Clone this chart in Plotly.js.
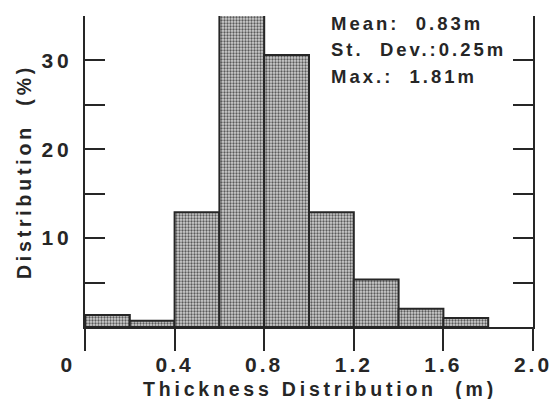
<!DOCTYPE html>
<html><head><meta charset="utf-8">
<script src="https://cdn.plot.ly/plotly-3.0.1.min.js"></script>
<style>
html,body{margin:0;padding:0;background:#fff;}
#chart .ytick text {letter-spacing:4px;}
#chart .xtick text {letter-spacing:3px;}
#chart .xtitle, #chart .ytitle {letter-spacing:3.8px;}
#chart .xtitle {translate: 11px 1px;}
#chart .annotation-text {letter-spacing:3px;}
</style></head><body><div id="chart" style="width:552px;height:399px"></div>
<script>
const binStarts = [0, 0.2, 0.4, 0.6, 0.8, 1.0, 1.2, 1.4, 1.6];
const binWidth = 0.2;
const percents = [1.35, 0.7, 12.9, 35.1, 30.6, 12.9, 5.35, 2.05, 1.0];
const xTickValues = [0, 0.4, 0.8, 1.2, 1.6, 2.0];
const xTickLabels = ['', '0.4', '0.8', '1.2', '1.6', '2.0'];
const yTickValues = [5, 10, 15, 20, 25, 30, 35];
const yTickLabels = ['', '10', '', '20', '', '30', ''];
const statsLines = ['Mean:\u00a0\u00a00.83m', 'St.\u00a0\u00a0Dev.:0.25m', 'Max.:\u00a0\u00a01.81m'];

const ink = '#262626';
const fam = 'Liberation Sans, Arial, Helvetica, sans-serif';

const trace = {
  type: 'bar',
  x: binStarts.map(s => s + binWidth / 2),
  y: percents,
  width: binStarts.map(() => binWidth),
  marker: {
    color: '#a4a4a4',
    pattern: {shape: '.', size: 3, solidity: 0.45, fgcolor: '#5a5a5a', bgcolor: '#d0d0d0', fillmode: 'replace'},
    line: {color: ink, width: 2}
  },
  hoverinfo: 'x+y'
};

const statsY = [0.977, 0.891, 0.804];
const annotations = statsLines.map((t, i) => ({
  text: t, xref: 'paper', yref: 'paper', x: 0.545, y: statsY[i],
  xanchor: 'left', yanchor: 'middle', align: 'left', showarrow: false,
  font: {family: fam, size: 18.5, color: ink, weight: 'bold'}
}));
annotations.push({
  text: '0', xref: 'x', yref: 'paper', x: 0, y: 0, xshift: -17, yshift: -37,
  xanchor: 'center', yanchor: 'middle', showarrow: false,
  font: {family: fam, size: 21, color: ink, weight: 'bold'}
});

const layout = {
  width: 552, height: 399,
  margin: {l: 85, r: 19, t: 16, b: 72},
  paper_bgcolor: '#ffffff', plot_bgcolor: '#ffffff',
  showlegend: false, bargap: 0,
  font: {family: fam, color: ink},
  xaxis: {
    range: [0, 2], showgrid: false, zeroline: false,
    showline: true, linecolor: ink, linewidth: 2,
    ticks: 'outside', ticklen: 22, tickwidth: 2, tickcolor: ink,
    tickmode: 'array', tickvals: xTickValues, ticktext: xTickLabels,
    ticklabelstandoff: -4,
    tickfont: {family: fam, size: 21, color: ink, weight: 'bold'},
    title: {text: 'Thickness\u00a0Distribution\u00a0\u00a0(m)', standoff: 12,
            font: {family: fam, size: 19.5, color: ink, weight: 'bold'}}
  },
  yaxis: {
    range: [0, 35], showgrid: false, zeroline: false,
    showline: true, linecolor: ink, linewidth: 2, mirror: 'ticks',
    ticks: 'inside', ticklen: 20, tickwidth: 2, tickcolor: ink,
    tickmode: 'array', tickvals: yTickValues, ticktext: yTickLabels,
    ticklabelstandoff: 6,
    tickfont: {family: fam, size: 21, color: ink, weight: 'bold'},
    title: {text: 'Distribution\u00a0\u00a0(%)', standoff: 13,
            font: {family: fam, size: 19.5, color: ink, weight: 'bold'}}
  },
  annotations: annotations
};

Plotly.newPlot('chart', [trace], layout, {staticPlot: true, displayModeBar: false});
</script></body></html>
